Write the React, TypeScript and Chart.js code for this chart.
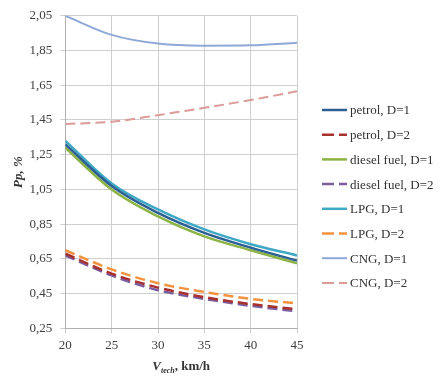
import React, { useEffect, useRef } from "react";
import { Chart, registerables } from "chart.js";

Chart.register(...registerables);

const speeds = [20, 25, 30, 35, 40, 45];
const yTicks = [0.25, 0.45, 0.65, 0.85, 1.05, 1.25, 1.45, 1.65, 1.85, 2.05];

const petrolD1 = [1.31, 1.07, 0.915, 0.80, 0.715, 0.64];
const petrolD2 = [0.68, 0.565, 0.485, 0.43, 0.39, 0.36];
const dieselD1 = [1.29, 1.05, 0.895, 0.78, 0.70, 0.625];
const dieselD2 = [0.67, 0.555, 0.47, 0.42, 0.38, 0.348];
const lpgD1 = [1.33, 1.085, 0.935, 0.82, 0.735, 0.67];
const lpgD2 = [0.70, 0.59, 0.51, 0.46, 0.42, 0.394];
const cngD1 = [2.05, 1.94, 1.89, 1.878, 1.88, 1.895];
const cngD2 = [1.427, 1.44, 1.478, 1.52, 1.565, 1.615];

const seriesNames = [
  "petrol, D=1",
  "petrol, D=2",
  "diesel fuel, D=1",
  "diesel fuel, D=2",
  "LPG, D=1",
  "LPG, D=2",
  "CNG, D=1",
  "CNG, D=2",
];

const FONT = "'Liberation Serif', 'Times New Roman', serif";

export default function App() {
  const ref = useRef<HTMLCanvasElement | null>(null);

  useEffect(() => {
    if (!ref.current) return;
    const mk = (label: string, vals: number[], color: string, dashed: boolean, width = 2.5) => ({
      label,
      data: speeds.map((s, i) => ({ x: s, y: vals[i] })),
      borderColor: color,
      backgroundColor: "transparent",
      borderWidth: width,
      borderDash: dashed ? [10, 5] : [],
      pointRadius: 0,
      tension: 0.4,
      cubicInterpolationMode: "monotone" as const,
      fill: false,
    });

    const xTitlePlugin = {
      id: "xTitle",
      afterDraw(chart: any) {
        const { ctx, chartArea } = chart;
        const cx = (chartArea.left + chartArea.right) / 2;
        const y = chartArea.bottom + 42;
        ctx.save();
        ctx.fillStyle = "#333";
        ctx.textBaseline = "alphabetic";
        ctx.textAlign = "left";
        const big = `bold italic 13px ${FONT}`;
        const small = `bold italic 8px ${FONT}`;
        const rest = `bold 13px ${FONT}`;
        ctx.font = big;
        const w1 = ctx.measureText("V").width;
        ctx.font = small;
        const w2 = ctx.measureText("tech").width;
        ctx.font = rest;
        const w3 = ctx.measureText(", km/h").width;
        let x = cx - (w1 + w2 + w3) / 2;
        ctx.font = big;
        ctx.fillText("V", x, y);
        x += w1;
        ctx.font = small;
        ctx.fillText("tech", x, y + 3);
        x += w2;
        ctx.font = rest;
        ctx.fillText(", km/h", x, y);
        ctx.restore();
      },
    };

    const legendPlugin = {
      id: "sideLegend",
      afterDraw(chart: any) {
        const { ctx } = chart;
        const x0 = 322;
        const lineLen = 25;
        const y0 = 110;
        const step = 24.7;
        ctx.save();
        ctx.textBaseline = "middle";
        ctx.textAlign = "left";
        ctx.font = `13px ${FONT}`;
        chart.data.datasets.forEach((ds: any, i: number) => {
          const y = y0 + i * step;
          ctx.beginPath();
          ctx.strokeStyle = ds.borderColor;
          ctx.lineWidth = ds.borderWidth;
          ctx.setLineDash(ds.borderDash && ds.borderDash.length ? [12, 5] : []);
          ctx.moveTo(x0, y);
          ctx.lineTo(x0 + lineLen, y);
          ctx.stroke();
          ctx.setLineDash([]);
          ctx.fillStyle = "#333";
          ctx.fillText(ds.label, x0 + lineLen + 3, y + 1);
        });
        ctx.restore();
      },
    };

    const chart = new Chart(ref.current, {
      type: "line",
      data: {
        datasets: [
          mk(seriesNames[0], petrolD1, "#2c5f94", false),
          mk(seriesNames[1], petrolD2, "#a8302e", true),
          mk(seriesNames[2], dieselD1, "#8cb445", false),
          mk(seriesNames[3], dieselD2, "#7b5e9f", true),
          mk(seriesNames[4], lpgD1, "#3fa9c5", false),
          mk(seriesNames[5], lpgD2, "#f5923e", true),
          mk(seriesNames[6], cngD1, "#8ea8d8", false, 2),
          mk(seriesNames[7], cngD2, "#dc9a98", true, 2),
        ],
      },
      options: {
        animation: false,
        responsive: true,
        maintainAspectRatio: false,
        layout: { padding: { left: 6, right: 149, top: 12, bottom: 21 } },
        scales: {
          x: {
            type: "linear",
            min: 20,
            max: 45,
            afterBuildTicks: (axis: any) => {
              axis.ticks = speeds.map((v) => ({ value: v }));
            },
            grid: { color: "#cfcfcf", lineWidth: 1, tickLength: 5 },
            border: { color: "#b0b0b0" },
            ticks: {
              color: "#404040",
              font: { family: FONT, size: 13 },
              padding: 4,
              maxRotation: 0,
              callback: (v: any) => String(v),
            },
          },
          y: {
            min: 0.25,
            max: 2.05,
            afterBuildTicks: (axis: any) => {
              axis.ticks = yTicks.map((v) => ({ value: v }));
            },
            grid: { color: "#cfcfcf", lineWidth: 1, tickLength: 5 },
            border: { color: "#b0b0b0" },
            ticks: {
              color: "#404040",
              font: { family: FONT, size: 13 },
              padding: 8,
              callback: (v: any) => Number(v).toFixed(2).replace(".", ","),
            },
            title: {
              display: true,
              text: "Pp, %",
              color: "#333",
              font: { family: FONT, size: 13, weight: "bold", style: "italic" },
              padding: { top: 5, bottom: -5 },
            },
          },
        },
        plugins: {
          tooltip: { enabled: false },
          legend: { display: false },
        },
      },
      plugins: [xTitlePlugin, legendPlugin],
    } as any);
    return () => chart.destroy();
  }, []);

  return (
    <div style={{ position: "fixed", left: 0, top: 0, width: 446, height: 378, background: "#fff" }}>
      <canvas ref={ref} />
    </div>
  );
}
